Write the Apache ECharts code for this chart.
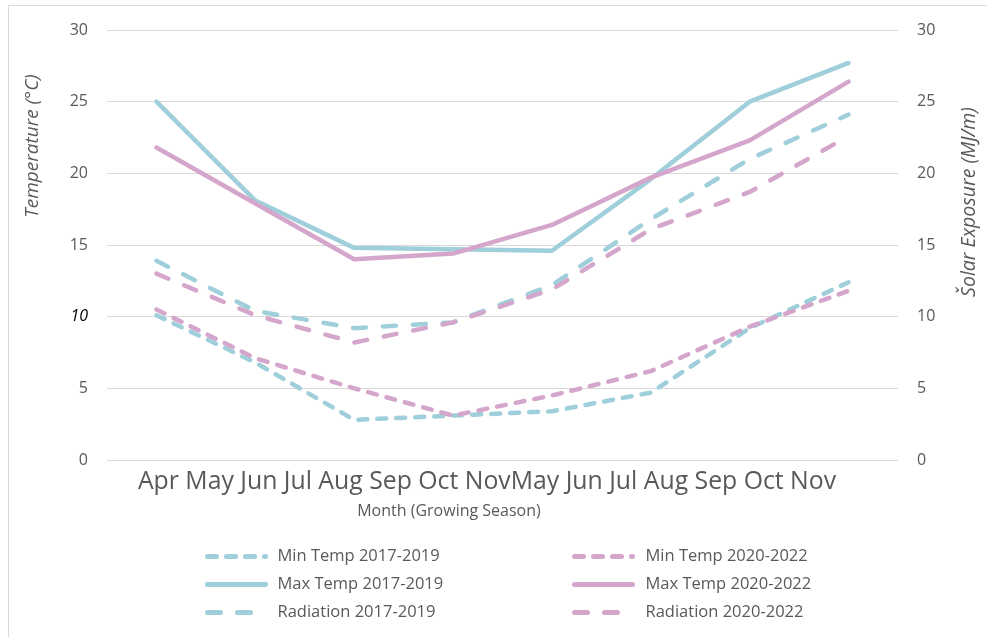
<!DOCTYPE html>
<html>
<head>
<meta charset="utf-8">
<script src="https://cdn.jsdelivr.net/npm/echarts@6/dist/echarts.min.js"></script>
<style>
  html, body { margin: 0; padding: 0; background: #fff; }
  #chart { width: 987px; height: 637px; }
</style>
</head>
<body>
<div id="chart"></div>
<script>
// data
var months = ['Apr', 'May', 'Jun', 'Jul', 'Aug', 'Sep', 'Oct', 'Nov'];
var monthText = 'Apr May Jun Jul Aug Sep Oct NovMay Jun Jul Aug Sep Oct Nov';
var tempTicks = [0, 5, 10, 15, 20, 25, 30];

var minTemp1719 = [10.1, 6.8, 2.8, 3.1, 3.4, 4.7, 9.2, 12.4];
var maxTemp1719 = [25.0, 18.1, 14.8, 14.7, 14.6, 19.6, 25.0, 27.7];
var rad1719 = [13.9, 10.4, 9.2, 9.6, 12.2, 16.8, 21.0, 24.1];
var minTemp2022 = [10.5, 7.1, 5.0, 3.1, 4.5, 6.2, 9.3, 11.8];
var maxTemp2022 = [21.8, 17.9, 14.0, 14.4, 16.4, 19.7, 22.3, 26.4];
var rad2022 = [13.0, 10.1, 8.2, 9.6, 11.9, 16.1, 18.7, 22.6];

var teal = '#9fcfda';
var pink = '#d5a6cb';
var grey = '#595959';
var font = 'Open Sans';

window.onload = function () {
  drawChart();
};

function lineSeries(name, data, color, dash, axis) {
  return {
    name: name,
    type: 'line',
    yAxisIndex: axis,
    data: data,
    symbol: 'none',
    lineStyle: { color: color, width: 4.5, type: dash, cap: 'round' },
    itemStyle: { color: color }
  };
}

function drawChart() {
  var myChart = echarts.init(document.getElementById('chart'));

  var shortDash = [9, 10];
  var longDash = [13, 17];

  var yAxisCommon = {
    type: 'value',
    min: tempTicks[0],
    max: tempTicks[tempTicks.length - 1],
    interval: 5,
    axisLine: { show: false },
    axisTick: { show: false },
    splitLine: { lineStyle: { color: '#d9d9d9', width: 1 } },
    axisLabel: { color: grey, fontSize: 16, fontFamily: font, margin: 19 }
  };

  var legendCommon = {
    orient: 'vertical', top: 543,
    itemWidth: 58, itemHeight: 14, itemGap: 11,
    itemStyle: { opacity: 0 },
    lineStyle: { width: 5 }
  };

  var option = {
    animation: false,
    grid: { left: 107, right: 89, top: 30, bottom: 177 },
    xAxis: {
      type: 'category',
      data: months,
      boundaryGap: true,
      axisLine: { show: false },
      axisTick: { show: false },
      axisLabel: { show: false }
    },
    yAxis: [
      echarts.util.merge({
        axisLabel: {
          formatter: function (v) { return v === 10 ? '{it|10}' : String(v); },
          rich: { it: { fontStyle: 'italic', color: '#000', fontSize: 16, fontFamily: font } }
        }
      }, yAxisCommon),
      echarts.util.merge({ position: 'right' }, yAxisCommon)
    ],
    legend: [
      echarts.util.merge({
        left: 200,
        textStyle: { color: grey, fontSize: 16.5, fontFamily: font, padding: [0, 0, 0, 7] },
        data: ['Min Temp 2017-2019', 'Max Temp 2017-2019', 'Radiation 2017-2019']
      }, legendCommon),
      echarts.util.merge({
        left: 567,
        textStyle: { color: grey, fontSize: 16.5, fontFamily: font, padding: [0, 0, 0, 8] },
        data: ['Min Temp 2020-2022', 'Max Temp 2020-2022', 'Radiation 2020-2022']
      }, legendCommon)
    ],
    graphic: [
      { type: 'rect', silent: true, shape: { x: 8.5, y: 5.5, width: 1100, height: 800 },
        style: { fill: 'none', stroke: '#d9d9d9', lineWidth: 1 } },
      { type: 'text', x: 487, y: 482,
        style: { text: monthText, fill: grey, font: '24.8px "Open Sans"', textAlign: 'center', textVerticalAlign: 'middle' } },
      { type: 'text', x: 449, y: 511,
        style: { text: 'Month (Growing Season)', fill: grey, font: '16px "Open Sans"', textAlign: 'center', textVerticalAlign: 'middle' } },
      { type: 'text', x: 33, y: 146, rotation: Math.PI / 2,
        style: { text: 'Temperature (°C)', fill: grey, font: 'italic 19px "Open Sans"', textAlign: 'center', textVerticalAlign: 'middle' } },
      { type: 'text', x: 969, y: 202, rotation: Math.PI / 2,
        style: { text: 'Šolar Exposure (MJ/m)', fill: grey, font: 'italic 19.5px "Open Sans"', textAlign: 'center', textVerticalAlign: 'middle' } }
    ],
    series: [
      lineSeries('Min Temp 2017-2019', minTemp1719, teal, shortDash, 0),
      lineSeries('Max Temp 2017-2019', maxTemp1719, teal, 'solid', 0),
      lineSeries('Radiation 2017-2019', rad1719, teal, longDash, 1),
      lineSeries('Min Temp 2020-2022', minTemp2022, pink, shortDash, 0),
      lineSeries('Max Temp 2020-2022', maxTemp2022, pink, 'solid', 0),
      lineSeries('Radiation 2020-2022', rad2022, pink, longDash, 1)
    ]
  };

  myChart.setOption(option);
}
</script>
</body>
</html>
